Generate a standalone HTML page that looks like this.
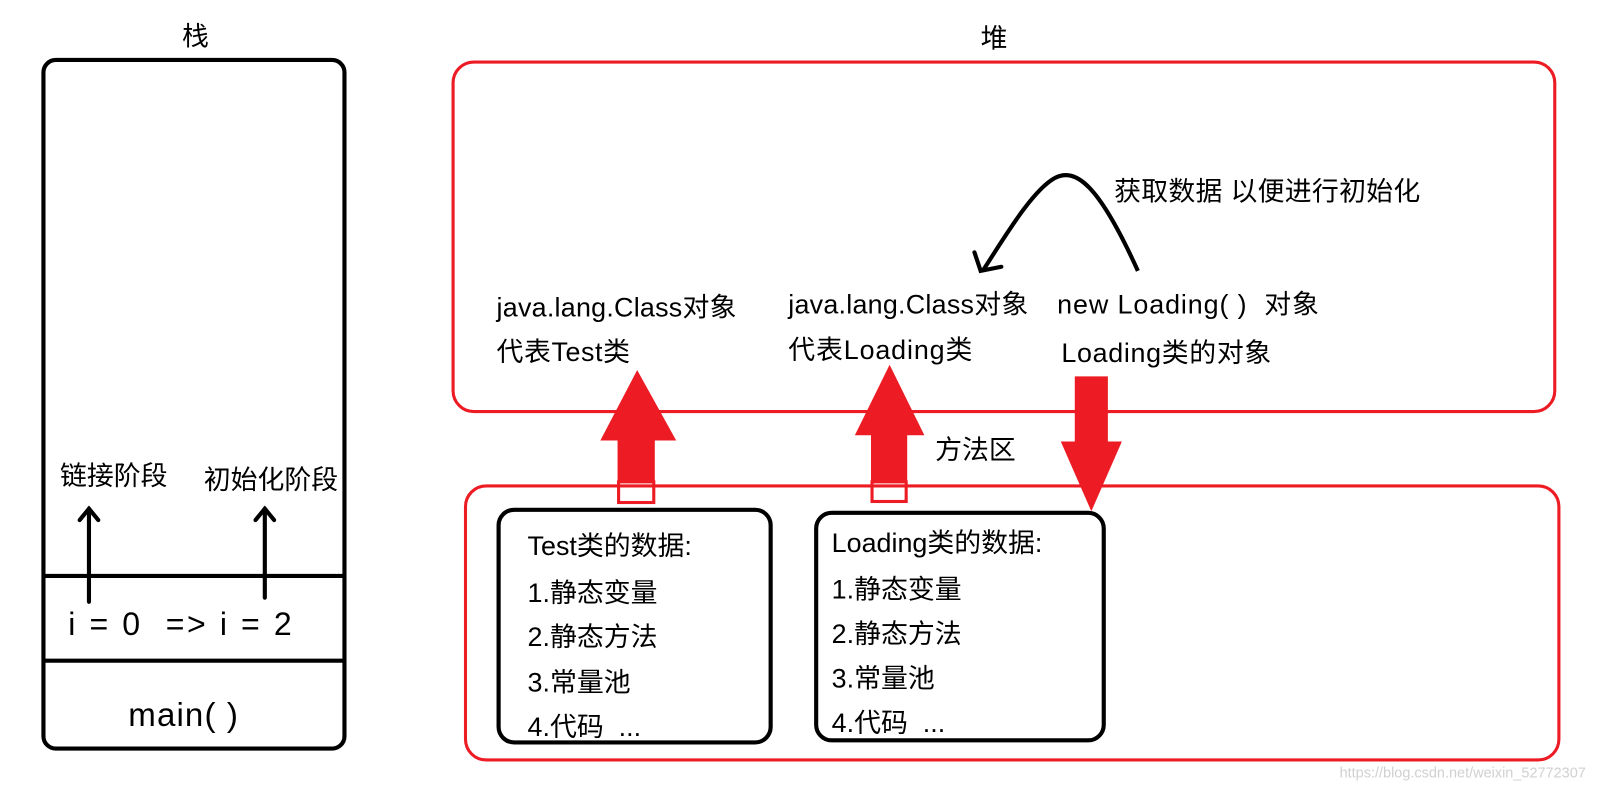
<!DOCTYPE html>
<html><head><meta charset="utf-8"><style>
html,body{margin:0;padding:0;background:#fff;width:1622px;height:791px;overflow:hidden}
svg text{font-family:"Liberation Sans","Noto Sans CJK SC",sans-serif;font-size:26px;fill:#000}
</style></head><body>
<svg width="1622" height="791" viewBox="0 0 1568 765" preserveAspectRatio="none" xmlns="http://www.w3.org/2000/svg">
<!-- stack -->
<text x="176" y="44">栈</text>
<rect x="42" y="58" width="291" height="666" rx="12" fill="none" stroke="#000" stroke-width="4"/>
<line x1="42" y1="557" x2="333" y2="557" stroke="#000" stroke-width="4"/>
<line x1="42" y1="639" x2="333" y2="639" stroke="#000" stroke-width="4"/>
<text x="58" y="469">链接阶段</text>
<text x="197" y="473">初始化阶段</text>
<g stroke="#000" stroke-width="4" fill="none" stroke-linecap="round">
<line x1="86" y1="582" x2="86" y2="492"/><polyline points="77,503 86,492 95,503"/>
<line x1="256" y1="578" x2="256" y2="492"/><polyline points="247,503 256,492 265,503"/>
</g>
<text x="66" y="614" style="font-size:31px" textLength="216">i = 0 &#160;=&gt; i = 2</text>
<text x="124" y="702" style="font-size:32px" textLength="106">main( )</text>
<!-- heap -->
<text x="948" y="46">堆</text>
<rect x="438" y="60" width="1065" height="338" rx="20" fill="none" stroke="#ed1c24" stroke-width="3"/>
<path d="M1100,262 C1062,178 1040,162 1020,172 C998,184 972,228 950,262" fill="none" stroke="#000" stroke-width="4"/>
<polyline points="942,244 948,262 968,258" fill="none" stroke="#000" stroke-width="4" stroke-linecap="round"/>
<text x="1077" y="194" textLength="296">获取数据 以便进行初始化</text>
<text x="480" y="306" textLength="232">java.lang.Class对象</text>
<text x="480" y="349" textLength="129">代表Test类</text>
<text x="762" y="303" textLength="232">java.lang.Class对象</text>
<text x="762" y="347" textLength="178">代表Loading类</text>
<text x="1022" y="303" textLength="253">new Loading( ) &#160;对象</text>
<text x="1026" y="350" textLength="203">Loading类的对象</text>
<text x="904" y="444">方法区</text>
<!-- method area -->
<rect x="450" y="470" width="1057" height="265" rx="20" fill="none" stroke="#ed1c24" stroke-width="3"/>
<!-- arrows -->
<g fill="#ed1c24" stroke="#ed1c24" stroke-width="2">
<polygon points="616,360 652,425 632,425 632,466 598,466 598,425 582,425"/>
<rect x="598" y="466" width="34" height="20" fill="none" stroke-width="3"/>
<polygon points="860,355 892,420 876,420 876,466 843,466 843,420 828,420"/>
<rect x="843" y="466" width="33" height="19" fill="none" stroke-width="3"/>
<polygon points="1040,365 1070,365 1070,428 1083,428 1055,492 1027,428 1040,428"/>
</g>
<rect x="482" y="493" width="263" height="225" rx="15" fill="#fff" stroke="#000" stroke-width="4"/>
<text x="510" y="537">Test类的数据:</text>
<text x="510" y="582">1.静态变量</text>
<text x="510" y="625">2.静态方法</text>
<text x="510" y="669">3.常量池</text>
<text x="510" y="712">4.代码 &#160;...</text>
<rect x="789" y="496" width="278" height="220" rx="15" fill="#fff" stroke="#000" stroke-width="4"/>
<text x="804" y="534">Loading类的数据:</text>
<text x="804" y="579">1.静态变量</text>
<text x="804" y="622">2.静态方法</text>
<text x="804" y="665">3.常量池</text>
<text x="804" y="708">4.代码 &#160;...</text>
<text x="1295" y="752" style="font-size:14px;fill:#d0d0d0">https://blog.csdn.net/weixin_52772307</text>
</svg>
</body></html>
